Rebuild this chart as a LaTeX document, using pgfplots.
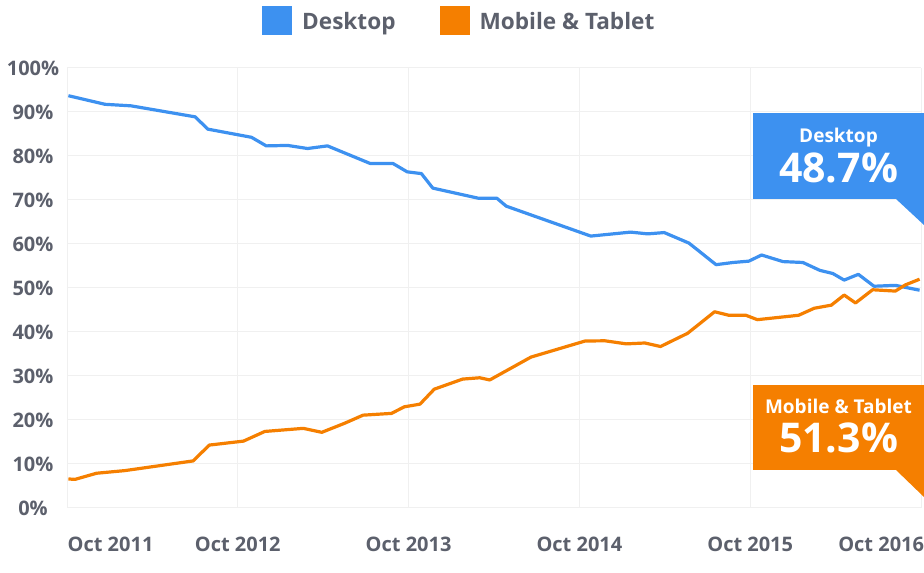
\documentclass[border=0pt]{standalone}
\usepackage{fontspec}
\setmainfont{Open Sans}
\usepackage{pgfplots}
\pgfplotsset{compat=1.18}
\definecolor{dblue}{HTML}{3D91F0}
\definecolor{morange}{HTML}{F57F00}
\definecolor{lbl}{HTML}{5C606C}
\definecolor{gridc}{HTML}{F0F0F0}

\begin{document}
\begin{tikzpicture}[x=1pt,y=1pt]
\path[use as bounding box] (0,0) rectangle (924,573);
\begin{axis}[at={(67pt,65pt)},anchor=south west,
  scale only axis,width=854pt,height=440pt,
  xmin=0,xmax=60,ymin=0,ymax=100,
  axis line style={draw=none},
  major tick length=0pt,minor tick length=0pt,
  ytick={0,10,...,100},
  yticklabels={0\%,10\%,20\%,30\%,40\%,50\%,60\%,70\%,80\%,90\%,100\%},
  xtick={3.06,12,24,36,48,57.2},
  xticklabels={Oct 2011,Oct 2012,Oct 2013,Oct 2014,Oct 2015,Oct 2016},
  minor xtick={0,12,...,60},
  ymajorgrids,xminorgrids,
  grid style={gridc,line width=1pt},
  ticklabel style={font=\fontsize{20}{22}\selectfont\bfseries,text=lbl},
  yticklabel style={anchor=center,xshift=-34pt},
  xticklabel style={yshift=-25pt},
  legend image code/.code={\fill[#1,draw=none] (0pt,-12.5pt) rectangle (30pt,16.5pt);
    \path[draw=none,fill=none] (0pt,0pt) -- (38pt,0pt);},
  legend style={at={(0.2283,1.109)},anchor=west,draw=none,fill=none,
    inner sep=0pt,legend columns=2,
    font=\fontsize{22.6}{24}\selectfont\bfseries,text=lbl,
    /tikz/every even column/.append style={column sep=42pt}},
]
\addplot[dblue,line width=3.2pt,line join=round] coordinates {
(0.1,93.7)(2.67,91.75)(4.5,91.4)(9,88.9)(9.9,86.1)(12.96,84.25)(14.0,82.3)
(15.5,82.4)(16.9,81.7)(18.3,82.3)(21.3,78.3)(22.9,78.3)(23.9,76.4)(24.9,76.0)
(25.7,72.7)(28.9,70.4)(30.2,70.4)(30.86,68.6)(36.8,61.8)(39.6,62.7)(40.8,62.3)
(41.96,62.6)(43.7,60.2)(45.6,55.3)(46.8,55.8)(47.9,56.1)(48.8,57.5)(50.3,56.0)
(51.7,55.8)(52.9,54.0)(53.8,53.3)(54.6,51.8)(55.6,53.1)(56.7,50.4)(58.2,50.6)
(59.9,49.5)};
\addlegendentry{Desktop}
\addplot[morange,line width=3.2pt,line join=round] coordinates {
(0.1,6.6)(0.56,6.5)(2.08,7.9)(4.07,8.5)(8.86,10.7)(10.0,14.3)(12.4,15.2)
(13.9,17.4)(16.6,18.1)(17.9,17.2)(19.5,19.25)(20.8,21.1)(22.8,21.5)(23.7,23.0)
(24.8,23.6)(25.8,27.0)(27.8,29.3)(29.0,29.6)(29.7,29.1)(32.6,34.3)(36.4,37.95)
(37.8,38.0)(39.3,37.3)(40.6,37.5)(41.7,36.7)(43.6,39.7)(45.5,44.6)(46.5,43.8)
(47.7,43.8)(48.5,42.8)(51.4,43.8)(52.5,45.4)(53.7,46.1)(54.6,48.4)(55.4,46.6)
(56.6,49.6)(58.2,49.3)(58.9,50.7)(59.9,52.0)};
\addlegendentry{Mobile \& Tablet}
\end{axis}
% callouts
\fill[dblue] (753,374) rectangle (924,460);
\fill[dblue] (896,374) -- (924,374) -- (924,348) -- cycle;
\node[anchor=base,text=white,inner sep=0pt,font=\fontsize{19}{21}\selectfont\bfseries] at (838.5,430) {Desktop};
\node[anchor=base,text=white,inner sep=0pt,font=\fontsize{41}{44}\selectfont\bfseries] at (838.5,390) {48.7\%};
\fill[morange] (753,103) rectangle (924,188);
\fill[morange] (896,103) -- (924,103) -- (924,76) -- cycle;
\node[anchor=base,text=white,inner sep=0pt,font=\fontsize{19}{21}\selectfont\bfseries] at (838.5,159) {Mobile \& Tablet};
\node[anchor=base,text=white,inner sep=0pt,font=\fontsize{41}{44}\selectfont\bfseries] at (838.5,120.5) {51.3\%};
\end{tikzpicture}
\end{document}
